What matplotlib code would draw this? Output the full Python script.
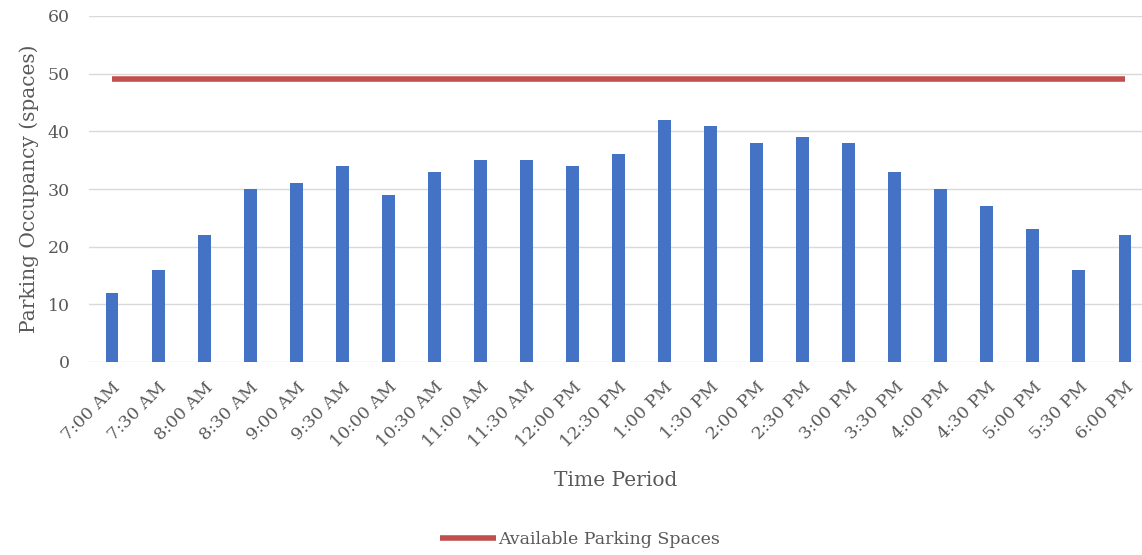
import matplotlib.pyplot as plt
import numpy as np

times = ['7:00 AM', '7:30 AM', '8:00 AM', '8:30 AM', '9:00 AM', '9:30 AM',
         '10:00 AM', '10:30 AM', '11:00 AM', '11:30 AM', '12:00 PM', '12:30 PM',
         '1:00 PM', '1:30 PM', '2:00 PM', '2:30 PM', '3:00 PM', '3:30 PM',
         '4:00 PM', '4:30 PM', '5:00 PM', '5:30 PM', '6:00 PM']
occupancy = [12, 16, 22, 30, 31, 34, 29, 33, 35, 35, 34, 36,
             42, 41, 38, 39, 38, 33, 30, 27, 23, 16, 22]
available = [49] * len(times)

plt.rcParams['font.family'] = ['DejaVu Serif']
text_color = '#595959'

fig = plt.figure(figsize=(11.42, 5.55), dpi=100)
ax = fig.add_axes([89 / 1142, 1 - 362 / 555, (1142 - 89) / 1142, 346 / 555])

x = np.arange(len(times))
ax.bar(x, occupancy, width=0.28, color='#4472C4', zorder=3)
ax.plot(x, available, color='#C0504D', linewidth=4, solid_capstyle='butt',
        zorder=4, label='Available Parking Spaces')

ax.set_xlim(-0.5, 22.37)
ax.set_ylim(0, 60)
ax.set_yticks(range(0, 61, 10))
ax.grid(axis='y', color='#D9D9D9', linewidth=1, zorder=0)
for s in ax.spines.values():
    s.set_visible(False)
ax.tick_params(length=0, colors=text_color, labelsize=12.5)
ax.tick_params(axis='y', pad=14)
ax.tick_params(axis='x', pad=12)
ax.set_xticks(x)
ax.set_xticklabels(times, rotation=45, ha='right', rotation_mode='anchor')
for lbl in ax.get_xticklabels():
    lbl.set_x(lbl.get_position()[0])
ax.set_ylabel('Parking Occupancy (spaces)', color=text_color, fontsize=14.5, labelpad=6)
ax.set_xlabel('Time Period', color=text_color, fontsize=14.5, labelpad=14)

leg = ax.legend(loc='center', bbox_to_anchor=(580 / 1142, 1 - 540 / 555),
                bbox_transform=fig.transFigure, frameon=False, fontsize=12.5,
                handlelength=3.2, handletextpad=0.15)
for t in leg.get_texts():
    t.set_color(text_color)

fig.savefig('out.png', dpi=100)
